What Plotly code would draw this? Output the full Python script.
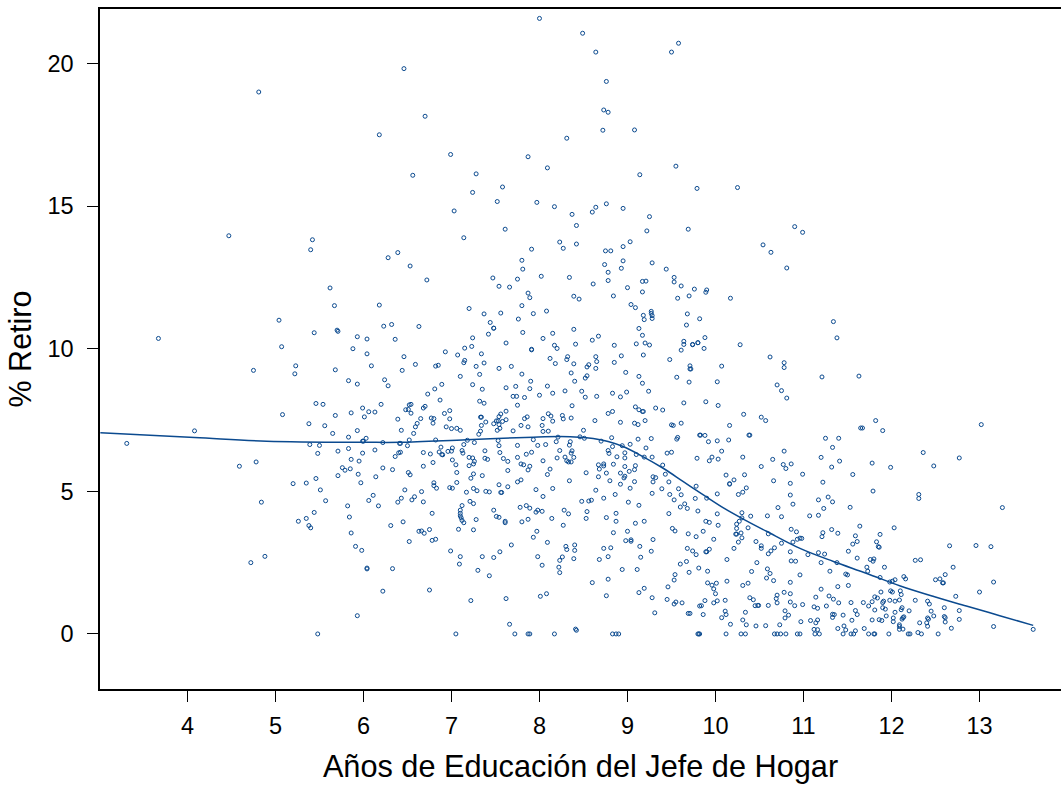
import plotly.graph_objects as go

# (años de educación, % retiro)
puntos_izq_arriba = [(4.81,19.0),(6.18,17.5),(4.47,13.96),(5.42,13.82),(5.4,13.47),(6.28,13.19),(6.39,13.37),(5.62,12.13),(5.67,11.51),(6.18,11.53),(5.04,11.0),(6.23,10.79),(6.32,10.85),(5.7,10.65)]
puntos_centro_arriba = [(8.0,21.58),(8.49,21.06),(8.64,20.4),(9.5,20.4),(9.58,20.71),(6.46,19.82),(8.76,19.37),(8.73,18.37),(8.78,18.29),(6.7,18.15),(8.72,17.66),(9.08,17.67),(8.31,17.38),(6.99,16.81),(7.87,16.73),(8.09,16.34),(9.55,16.4),(6.56,16.08),(7.28,16.13),(9.14,16.1),(7.58,15.67),(7.24,15.48),(9.79,15.62),(10.25,15.65),(7.52,15.16),(7.97,15.13),(8.17,14.98),(8.37,14.71),(8.64,14.96),(8.6,14.79),(8.76,15.08),(8.95,14.92),(7.03,14.83),(8.42,14.32),(9.25,14.63),(9.22,14.13),(9.69,14.19),(7.14,13.89),(7.61,14.19),(8.23,13.74),(8.27,13.52),(8.42,13.67),(7.91,13.49),(8.75,13.43),(8.81,13.43),(8.95,13.58),(9.03,13.75),(7.8,13.1),(7.81,12.79),(8.74,12.95),(8.95,13.08),(9.28,13.01),(8.93,12.82),(9.44,12.79),(8.78,12.68),(6.53,12.9),(6.72,12.41),(7.47,12.48),(7.75,12.44),(8.02,12.54),(8.34,12.5),(8.78,12.39),(9.17,12.36),(9.21,12.37),(9.53,12.5),(9.53,12.34),(8.61,12.27),(7.54,12.19),(7.66,12.16),(9.61,12.2),(9.0,12.14),(9.76,12.09),(9.9,12.06),(9.89,11.98),(7.87,11.95),(7.89,11.79),(9.17,11.99),(8.39,11.84),(8.45,11.74),(8.84,11.85),(9.7,11.85),(9.57,11.77),(10.17,11.77),(7.8,11.51),(7.2,11.41),(9.04,11.55),(9.09,11.44),(7.37,11.22),(7.56,11.25),(7.93,11.23),(8.08,11.32),(9.27,11.31),(9.27,11.24),(9.28,11.16),(9.28,11.06),(9.18,11.17),(9.19,11.02),(9.68,11.22),(9.82,11.05),(7.76,11.04),(7.44,10.92),(7.48,10.72),(7.48,10.72),(6.63,10.78),(9.67,10.83),(8.39,10.68),(9.13,10.71)]
puntos_der_arriba = [(10.9,14.28),(10.99,14.08),(10.54,13.64),(10.63,13.38),(10.81,12.83),(11.34,10.95),(11.38,10.38),(10.62,9.71),(10.78,9.51),(10.78,9.34),(11.21,9.01),(11.63,9.04),(10.7,8.73),(10.75,8.53),(10.81,8.27),(10.52,7.6),(10.57,7.48),(11.82,7.48),(11.67,7.22),(11.65,7.22),(11.9,7.13),(13.02,7.34),(11.25,6.86),(11.4,6.86),(11.33,6.54),(10.78,6.41),(10.39,6.97),(12.36,6.36),(12.77,6.17),(11.2,6.19),(10.65,6.12),(10.77,5.94),(10.86,5.96),(11.41,6.06),(11.78,5.99),(10.52,5.87),(11.32,5.85),(11.99,5.84),(12.48,5.89),(10.8,5.8)]
puntos_hueco = [(9.88,10.39),(9.8,10.21),(9.74,10.14),(9.87,10.01),(10.28,10.14),(10.07,9.39),(9.72,9.29),(10.02,8.84),(9.89,8.14),(10.03,8.01),(10.32,7.7),(10.16,7.31),(9.83,6.97),(9.88,6.96),(10.38,6.97),(9.92,6.74),(10.02,6.77),(10.15,6.8),(10.07,6.41)]
puntos_izq_abajo = [(3.67,10.36),(5.44,10.56),(5.71,10.61),(5.93,10.42),(6.04,10.34),(6.36,10.33),(5.07,10.07),(5.88,10.0),(6.04,9.82),(5.23,9.4),(5.22,9.12),(6.09,9.4),(4.75,9.24),(5.68,9.26),(5.83,8.88),(5.93,8.76),(6.24,8.91),(6.28,8.7),(5.46,8.08),(5.54,8.05),(6.2,8.05),(5.99,7.92),(6.06,7.79),(6.13,7.78),(5.86,7.75),(5.68,7.66),(6.01,7.61),(5.08,7.69),(6.39,7.53),(5.38,7.37),(5.56,7.3),(4.08,7.12),(5.93,7.13),(5.65,7.03),(5.83,6.9),(6.03,6.86),(6.0,6.76),(5.99,6.76),(6.22,6.71),(3.31,6.68),(5.39,6.64),(5.5,6.61),(6.41,6.68),(5.83,6.5),(6.13,6.45),(5.71,6.41),(5.48,6.33),(5.99,6.34),(6.4,6.35),(6.36,6.22),(5.86,6.12),(5.95,6.06),(4.78,6.03),(4.59,5.88),(5.76,5.83),(5.79,5.74),(5.85,5.79),(6.22,5.82),(6.33,5.76),(5.71,5.55),(5.94,5.6),(6.14,5.51),(5.46,5.45),(5.2,5.27),(5.35,5.29),(5.97,5.3),(5.51,5.05),(6.11,4.86),(6.06,4.68),(5.57,4.67),(4.84,4.62),(6.39,4.62),(5.82,4.49),(6.17,4.49),(5.44,4.26),(5.84,4.1),(5.35,4.05),(5.26,3.95),(5.38,3.8),(5.4,3.72),(6.31,3.8),(5.86,3.54),(5.91,3.07),(5.98,2.93),(4.88,2.72),(4.72,2.5),(6.04,2.31),(6.04,2.28),(6.33,2.29),(6.22,1.5),(5.93,0.64),(5.48,0.0)]
puntos_centro_1 = [(7.42,10.51),(7.81,10.57),(8.15,10.54),(7.24,10.38),(8.04,10.36),(9.17,10.47),(8.67,10.44),(8.6,10.3),(9.64,10.26),(7.62,10.2),(8.41,10.16),(8.17,10.12),(8.2,10.01),(8.85,10.12),(9.1,10.17),(9.2,10.2),(9.25,10.13),(9.64,10.15),(9.74,10.15),(9.8,10.21),(7.23,10.08),(7.15,10.02),(7.91,9.96),(7.91,9.98),(9.61,9.95),(6.93,9.89),(7.34,9.82),(7.07,9.78),(9.18,9.78),(8.93,9.75),(8.64,9.72),(6.46,9.72),(8.12,9.66),(8.32,9.72),(8.31,9.62),(9.48,9.62),(7.15,9.59),(7.14,9.51),(7.37,9.5),(8.65,9.55),(8.85,9.52),(8.18,9.48),(8.39,9.47),(6.59,9.45),(6.82,9.39),(6.85,9.42),(7.28,9.38),(7.68,9.38),(7.54,9.31),(8.56,9.44),(8.54,9.36),(8.64,9.31),(9.71,9.4),(9.71,9.29),(6.44,9.24),(8.98,9.17),(8.36,9.15),(7.32,9.1),(7.8,9.11),(7.1,9.03),(8.54,9.05),(8.52,8.97),(9.13,9.03),(9.56,9.0),(7.9,8.86),(8.4,8.86),(9.17,8.79),(9.7,8.83),(6.89,8.75),(7.24,8.74),(7.73,8.68),(8.09,8.69),(6.81,8.59),(7.35,8.58),(7.62,8.63),(7.89,8.6),(8.29,8.52),(8.48,8.51),(8.83,8.44),(8.99,8.48),(9.24,8.51),(6.73,8.41),(8.15,8.44),(8.0,8.37),(7.7,8.33),(7.74,8.33),(7.83,8.29),(8.52,8.3),(8.65,8.33),(8.92,8.31),(6.87,8.2),(7.32,8.16),(7.37,8.09),(7.75,8.02),(8.37,8.0),(9.64,8.1),(6.52,8.03),(6.54,8.05),(6.7,7.98),(6.68,7.92),(6.48,7.86),(6.51,7.87),(6.54,7.74),(6.98,7.83),(6.92,7.73),(7.62,7.81),(8.83,7.8),(8.78,7.73),(9.09,7.96),(9.13,7.86),(9.17,7.8),(9.18,7.8),(9.32,7.92),(9.4,7.85)]
puntos_centro_2 = [(7.33,7.6),(7.34,7.6),(7.56,7.71),(7.54,7.62),(8.1,7.72),(8.13,7.64),(8.26,7.66),(8.27,7.54),(8.36,7.57),(7.86,7.61),(7.83,7.55),(8.04,7.55),(6.65,7.55),(6.77,7.57),(6.8,7.55),(6.98,7.54),(7.39,7.43),(7.51,7.47),(7.53,7.47),(7.62,7.51),(8.15,7.46),(8.63,7.48),(8.92,7.42),(9.2,7.48),(6.61,7.38),(6.79,7.39),(7.48,7.37),(7.58,7.45),(7.34,7.31),(7.54,7.34),(7.79,7.31),(8.03,7.31),(9.08,7.39),(9.12,7.34),(9.61,7.39),(9.5,7.33),(9.52,7.31),(6.59,7.26),(6.94,7.26),(7.0,7.2),(7.06,7.21),(7.1,7.14),(7.55,7.21),(7.52,7.14),(7.33,7.11),(7.87,7.26),(8.04,7.1),(8.1,7.11),(8.5,7.14),(6.43,7.14),(7.7,7.12),(7.31,7.0),(6.57,7.03),(9.82,6.97),(8.46,6.91),(8.51,6.86),(8.21,6.9),(8.82,6.88),(9.12,6.83),(9.27,6.85),(9.57,6.89),(9.56,6.83),(6.52,6.8),(6.82,6.8),(7.18,6.79),(7.53,6.78),(7.93,6.81),(8.19,6.74),(8.35,6.74),(8.7,6.76),(7.26,6.71),(6.42,6.68),(7.14,6.64),(7.54,6.6),(7.75,6.61),(7.98,6.61),(8.07,6.64),(8.34,6.62),(9.03,6.65),(6.5,6.6),(8.83,6.57),(8.94,6.6),(9.21,6.52),(6.88,6.55),(7.01,6.52),(8.23,6.43),(8.37,6.42),(8.78,6.43),(7.38,6.42),(7.12,6.43),(6.96,6.4),(7.0,6.41),(6.86,6.38),(6.42,6.37),(6.68,6.36),(7.13,6.34),(7.55,6.36),(7.91,6.37),(8.36,6.34),(8.79,6.33),(8.97,6.35),(9.45,6.34),(9.5,6.37),(6.76,6.31),(6.89,6.29),(6.9,6.28),(7.85,6.3),(9.1,6.29),(7.75,6.19),(7.2,6.19),(7.24,6.17),(7.38,6.16),(7.41,6.12),(7.59,6.15),(8.2,6.17),(8.29,6.2),(8.39,6.19),(8.88,6.21),(8.97,6.17),(9.19,6.2),(9.28,6.2),(9.79,6.16),(7.01,6.1),(7.64,6.05),(8.04,6.07),(8.31,6.07),(8.33,6.03),(8.36,6.03),(7.26,6.05),(7.25,5.96),(6.79,6.01),(7.79,5.96),(7.82,5.93),(7.05,5.93),(7.2,5.9),(6.68,5.88),(7.89,5.88),(7.87,5.75),(8.67,5.93),(8.73,5.96),(8.73,5.89),(8.84,5.95),(8.97,5.87),(9.09,5.9),(9.4,5.92),(8.68,5.78),(9.08,5.76),(9.02,5.7),(7.64,5.73),(8.12,5.78),(8.09,5.59),(8.53,5.65),(8.76,5.64),(8.92,5.64),(9.43,5.6),(6.51,5.66),(6.53,5.58),(7.06,5.66),(7.25,5.61),(7.35,5.55),(8.67,5.51),(8.97,5.53),(8.96,5.47),(9.29,5.51),(9.32,5.48),(7.22,5.46),(7.79,5.4),(7.75,5.33),(8.34,5.37),(8.8,5.37),(9.08,5.34),(9.29,5.33),(6.8,5.3),(7.06,5.31)]
puntos_centro_3 = [(7.54,5.23),(8.92,5.25),(9.78,5.18),(6.8,5.2),(6.98,5.13),(7.01,5.11),(6.83,5.11),(7.25,5.1),(7.64,5.16),(8.15,5.1),(7.96,5.06),(9.03,5.11),(9.39,5.09),(9.58,5.09),(6.47,5.05),(7.29,5.02),(6.66,4.99),(7.39,5.0),(7.43,4.98),(7.17,4.97),(7.56,4.96),(7.57,4.96),(8.64,5.04),(9.47,5.33),(8.86,4.89),(9.28,4.93),(9.48,4.89),(9.61,4.88),(8.04,4.82),(6.58,4.81),(6.43,4.76),(6.55,4.7),(8.73,4.76),(9.77,4.75),(9.53,4.7),(7.21,4.65),(6.68,4.63),(7.25,4.57),(8.48,4.65),(8.56,4.66),(8.59,4.69),(9.01,4.62),(9.13,4.51),(9.65,4.56),(7.12,4.5),(7.85,4.5),(7.78,4.44),(7.89,4.41),(9.6,4.45),(9.68,4.4),(7.1,4.34),(7.48,4.34),(7.98,4.34),(7.96,4.27),(8.03,4.3),(8.28,4.34),(8.54,4.29),(9.8,4.31),(7.1,4.23),(6.78,4.23),(8.33,4.21),(8.87,4.23),(9.47,4.22),(7.1,4.14),(7.51,4.12),(7.54,4.09),(7.11,4.07),(8.14,4.05),(8.53,4.05),(8.76,4.08),(7.28,4.01),(7.87,4.02),(7.12,3.98),(7.14,3.9),(6.45,3.93),(7.61,3.95),(7.61,3.9),(7.8,3.93),(8.87,3.95),(9.19,3.95),(9.09,3.88),(8.27,3.81),(7.08,3.67),(7.25,3.65),(6.75,3.66),(6.63,3.6),(6.66,3.61),(6.69,3.53),(7.97,3.6),(9.51,3.7),(9.54,3.61),(8.84,3.55),(9.0,3.6),(9.69,3.51),(9.78,3.41),(7.93,3.39),(6.82,3.32),(6.78,3.28),(6.52,3.24),(8.09,3.21),(8.98,3.27),(9.04,3.3),(9.04,3.25),(9.29,3.31),(7.68,3.12),(8.4,3.12),(8.3,3.07),(9.14,3.07),(8.31,2.96),(8.4,2.93),(8.73,3.0),(8.81,3.02),(9.68,3.0),(6.99,2.91),(7.55,2.88),(9.27,2.9),(9.74,2.91),(9.78,2.78),(7.35,2.71),(7.1,2.71),(7.48,2.68),(7.98,2.71),(8.26,2.7),(8.39,2.64),(8.78,2.71),(9.15,2.69),(8.23,2.58),(8.68,2.61),(9.67,2.54),(7.09,2.45),(8.03,2.41),(9.6,2.45),(8.22,2.34),(9.81,2.31),(7.3,2.23),(8.23,2.15),(8.94,2.26),(9.11,2.26),(9.7,2.16),(7.43,2.04),(9.54,2.08),(9.53,1.89),(8.78,1.92),(8.6,1.8),(9.46,1.65),(6.75,1.54),(9.19,1.6),(9.13,1.45),(8.08,1.41),(8.01,1.32),(8.76,1.34),(9.28,1.27),(7.62,1.24),(7.22,1.17),(9.45,1.21),(9.55,1.12),(9.53,1.05),(9.62,1.09),(9.82,0.98),(9.31,0.74),(9.69,0.72),(9.71,0.72),(7.66,0.34),(8.41,0.17),(8.42,0.13),(7.05,0.0),(7.72,0.0),(7.87,0.0),(7.89,0.0),(8.17,0.0),(8.83,0.0),(8.87,0.0),(8.9,0.0),(9.8,0.0),(9.81,0.0)]
puntos_der_1 = [(10.31,6.2),(9.96,6.2),(9.93,6.07),(10.03,6.13),(10.12,5.57),(10.33,5.58),(10.99,5.6),(11.56,5.59),(10.16,5.25),(10.16,5.27),(10.21,5.4),(10.66,5.37),(10.85,5.28),(11.22,5.32),(10.02,4.91),(10.26,4.89),(10.31,4.97),(10.35,5.12),(10.85,4.87),(11.79,5.01),(12.31,4.89),(12.31,4.75),(9.9,4.76),(11.17,4.7),(11.28,4.8),(11.33,4.63),(10.88,4.55),(10.71,4.43),(11.23,4.4),(11.53,4.44),(13.26,4.43),(10.3,4.25),(10.02,4.21),(10.4,4.13),(10.59,4.14),(10.75,4.11),(11.07,4.14),(11.17,4.16),(10.3,4.07),(10.27,3.95),(10.24,3.85),(9.89,3.95),(9.93,3.91),(10.03,3.81),(10.37,3.72),(10.24,3.7),(11.64,3.78),(12.03,3.72),(10.86,3.67),(11.32,3.66),(9.86,3.6),(10.29,3.54),(10.6,3.51),(10.92,3.58),(11.22,3.55),(11.21,3.41),(11.39,3.53),(11.59,3.44),(11.87,3.49),(10.23,3.5),(10.24,3.5),(10.3,3.37),(10.98,3.35),(10.96,3.36),(10.93,3.32),(9.98,3.32),(10.26,3.22),(10.46,3.24),(10.75,3.18),(10.88,3.22),(11.61,3.24),(11.83,3.23),(11.56,3.15),(11.85,3.06),(11.86,3.04),(12.66,3.09),(12.96,3.1),(13.13,3.06),(10.52,3.09),(10.52,3.0),(10.67,3.02),(9.93,2.97),(10.21,3.0),(10.63,2.91),(10.6,2.81),(10.85,2.88),(11.51,2.9),(9.89,2.88),(9.9,2.88),(11.17,2.85),(11.24,2.8),(11.05,2.78),(10.13,2.61),(11.61,2.66),(11.76,2.61),(11.8,2.63),(11.79,2.55),(12.27,2.58),(12.33,2.6),(10.47,2.5),(10.86,2.56),(10.91,2.55),(11.2,2.5),(11.38,2.5)]
puntos_der_2 = [(11.72,2.34),(11.92,2.34),(12.7,2.34),(10.59,2.28),(9.91,2.2),(10.41,2.19),(11.3,2.2),(11.73,2.2),(10.62,2.12),(10.96,2.07),(11.48,2.1),(11.5,2.07),(12.61,2.08),(10.58,1.96),(11.87,1.98),(12.14,2.01),(12.16,1.93),(11.98,1.82),(12.01,1.85),(12.04,1.9),(12.5,1.9),(12.55,1.93),(12.58,1.79),(12.59,1.79),(10.66,1.87),(10.13,1.85),(10.85,1.81),(13.16,1.82),(9.91,1.79),(9.96,1.71),(10.01,1.78),(10.37,1.78),(10.31,1.7),(9.98,1.58),(10.0,1.41),(11.39,1.66),(11.51,1.7),(11.2,1.57),(10.78,1.46),(10.85,1.41),(10.7,1.36),(10.69,1.24),(11.88,1.47),(11.99,1.51),(12.01,1.47),(12.1,1.51),(12.11,1.38),(13.0,1.47),(12.73,1.32),(11.14,1.29),(11.29,1.33),(11.34,1.22),(11.81,1.3),(11.84,1.26),(10.39,1.27),(10.43,1.2),(9.88,1.17),(10.02,1.16),(9.98,1.09),(10.11,1.18),(10.7,1.09),(10.85,1.12),(11.4,1.09),(11.54,1.1),(11.68,1.1),(11.78,1.13),(11.74,0.98),(11.91,1.15),(11.9,1.1),(11.98,1.18),(12.04,1.15),(12.09,1.19),(12.27,1.18),(12.41,1.15),(12.43,1.05),(9.84,0.99),(10.45,0.99),(10.48,1.0),(10.49,1.0),(10.6,1.0),(10.9,0.99),(10.99,1.03),(11.12,0.95),(11.16,0.9),(11.26,0.98),(11.9,0.92),(11.93,0.87),(11.81,0.84),(12.12,0.92),(12.11,0.85),(12.6,0.92),(11.59,0.82),(10.11,0.8),(10.34,0.76),(10.79,0.81),(12.04,0.76),(12.2,0.81),(12.45,0.8),(12.77,0.82),(9.86,0.68),(10.12,0.68),(10.83,0.66),(11.33,0.69),(11.35,0.68),(11.33,0.58),(11.45,0.66),(11.61,0.68),(11.94,0.63),(12.48,0.63),(12.6,0.61),(12.61,0.57),(10.07,0.57),(10.79,0.56),(10.31,0.49),(11.16,0.49),(11.55,0.48),(11.78,0.49),(11.86,0.5),(11.89,0.47),(12.02,0.56),(12.02,0.43),(12.13,0.57),(12.14,0.6),(12.12,0.52),(12.41,0.56),(12.42,0.52),(12.77,0.51),(12.61,0.42),(10.97,0.43),(11.08,0.47),(11.14,0.39),(12.32,0.39),(12.4,0.39),(10.17,0.34),(10.35,0.32),(10.46,0.28),(10.57,0.29),(10.73,0.32),(11.46,0.28),(12.09,0.32),(12.09,0.26),(12.41,0.27),(13.16,0.26),(11.12,0.16),(11.16,0.15),(11.39,0.19),(11.48,0.14),(11.59,0.11),(11.69,0.19),(12.09,0.16),(12.13,0.17),(12.68,0.2),(13.61,0.16),(9.82,0.0),(10.12,0.0),(10.29,0.0),(10.34,0.0),(10.67,0.0),(10.7,0.0),(10.74,0.0),(10.8,0.0),(10.93,0.0),(10.96,0.0),(11.13,0.0),(11.18,0.0),(11.45,0.0),(11.54,0.0),(11.57,0.0),(11.74,0.0),(11.8,0.0),(11.81,0.0),(11.97,0.0),(12.19,0.0),(12.21,0.0),(12.3,0.05),(12.34,0.0),(12.53,0.0)]

curva_x = [3.01,4.08,4.9,6.04,6.42,7.17,7.93,8.23,8.45,8.61,8.78,8.95,9.18,9.41,9.63,9.84,10.09,10.32,10.58,10.96,11.34,11.72,12.1,12.48,12.85,13.23,13.61]
curva_y = [7.05,6.89,6.76,6.72,6.72,6.81,6.9,6.92,6.9,6.85,6.75,6.57,6.21,5.8,5.35,4.92,4.42,4.02,3.6,3.0,2.54,2.12,1.68,1.31,0.98,0.64,0.3]

x_ticks = [4,5,6,7,8,9,10,11,12,13]
y_ticks = [0,5,10,15,20]
titulo_x = "Años de Educación del Jefe de Hogar"
titulo_y = "% Retiro"

todos = (puntos_izq_arriba + puntos_centro_arriba + puntos_der_arriba + puntos_hueco
         + puntos_izq_abajo + puntos_centro_1 + puntos_centro_2 + puntos_centro_3
         + puntos_der_1 + puntos_der_2)
educ = [p[0] for p in todos]
retiro = [p[1] for p in todos]

AZUL = "#0b4a8f"
FONT = "Liberation Sans"

fig = go.Figure()
fig.add_trace(go.Scatter(x=educ, y=retiro, mode="markers",
                         marker=dict(symbol="circle-open", size=4, color=AZUL, line=dict(width=1, color=AZUL)),
                         showlegend=False))
fig.add_trace(go.Scatter(x=curva_x, y=curva_y, mode="lines",
                         line=dict(color=AZUL, width=1.5, shape="spline", smoothing=1.0),
                         showlegend=False))

axis_common = dict(showgrid=False, zeroline=False, showline=True, linecolor="black", linewidth=1.5,
                   ticks="outside", ticklen=11, tickwidth=1, tickcolor="black",
                   tickfont=dict(family=FONT, size=23.5, color="black"))
fig.update_xaxes(range=[3.006, 13.926], tickvals=x_ticks, ticktext=[str(t) for t in x_ticks], mirror=True,
                 ticklabelstandoff=4,
                 title=dict(text=titulo_x, font=dict(family=FONT, size=30.7, color="black"), standoff=18),
                 **axis_common)
fig.update_yaxes(range=[-1.93, 21.91], tickvals=y_ticks, ticktext=[str(t) for t in y_ticks],
                 ticklabelstandoff=9,
                 title=dict(text=titulo_y, font=dict(family=FONT, size=30.5, color="black"), standoff=7),
                 **axis_common)
fig.update_layout(width=1061, height=787, margin=dict(l=100, r=0, t=9, b=98, autoexpand=False),
                  paper_bgcolor="white", plot_bgcolor="white", showlegend=False)

fig.write_html("out.html", config=dict(displayModeBar=False),
               post_script="document.body.style.margin='0';document.documentElement.style.overflow='hidden';")
